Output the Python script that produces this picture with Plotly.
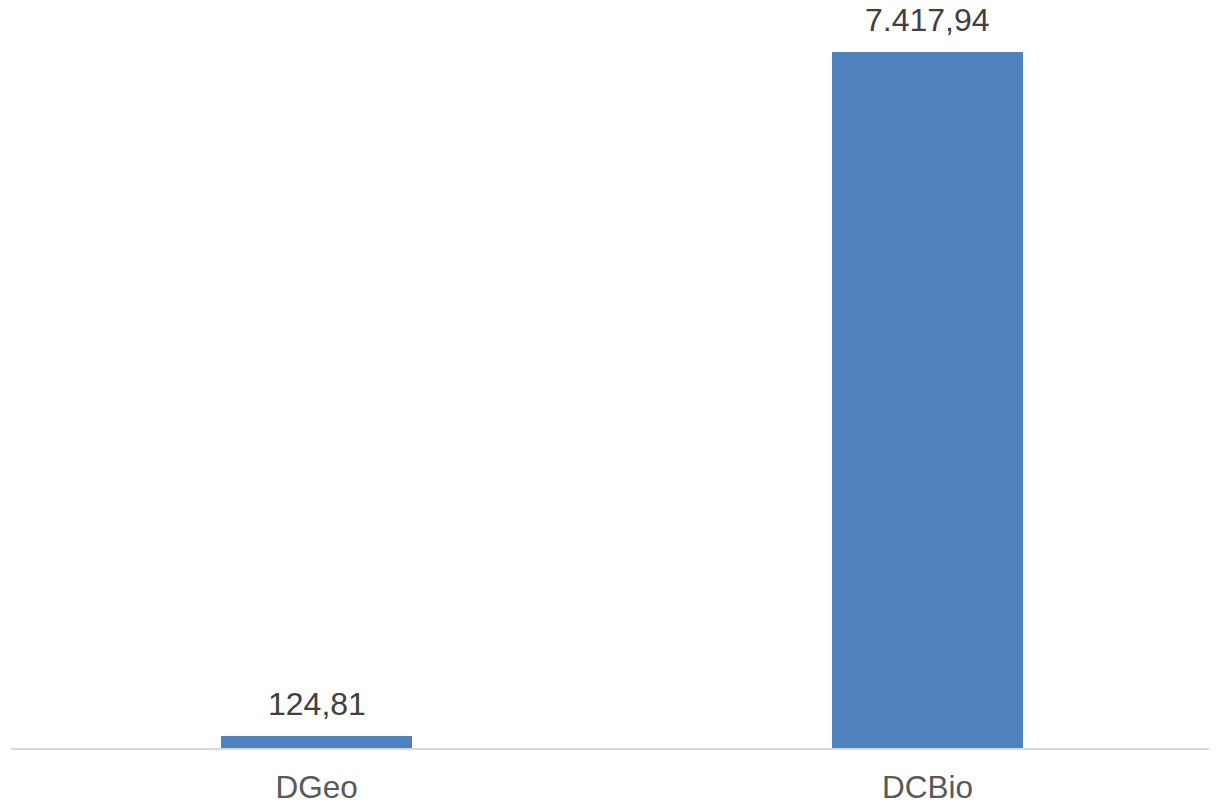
import plotly.graph_objects as go

categories = ["DGeo", "DCBio"]
values = [124.81, 7417.94]

bar_color = "#4F81BD"
FONT = "Liberation Sans, Arial, sans-serif"

fig = go.Figure()
fig.add_trace(go.Bar(
    x=[0, 1],
    y=values,
    width=0.3126,
    marker=dict(color=bar_color, line=dict(width=0)),
    hoverinfo="skip",
))

for i, v in enumerate(values):
    txt = f"{v:,.2f}".replace(",", "X").replace(".", ",").replace("X", ".")
    fig.add_annotation(
        x=i, y=v, text=txt, showarrow=False,
        xanchor="center", yanchor="bottom", yshift=12,
        font=dict(family=FONT, size=32, color="#404040"),
    )

# page body has an 8px default margin; margins compensate for it
fig.update_layout(
    width=1217, height=803,
    margin=dict(l=3, r=9, t=12, b=62.5, autoexpand=False),
    paper_bgcolor="white", plot_bgcolor="white",
    showlegend=False,
    bargap=0,
    xaxis=dict(
        range=[-0.5, 1.472],
        tickvals=[0, 1],
        ticktext=categories,
        showgrid=False, zeroline=False,
        showline=True, linecolor="#D9D9D9", linewidth=1.5,
        ticks="",
        ticklabelstandoff=10,
        tickfont=dict(family=FONT, size=31.5, color="#595959"),
        fixedrange=True,
        automargin=False,
    ),
    yaxis=dict(
        range=[0, 7759],
        visible=False,
        showgrid=False, zeroline=False,
        fixedrange=True,
        automargin=False,
    ),
)

fig.write_html("out.html")
